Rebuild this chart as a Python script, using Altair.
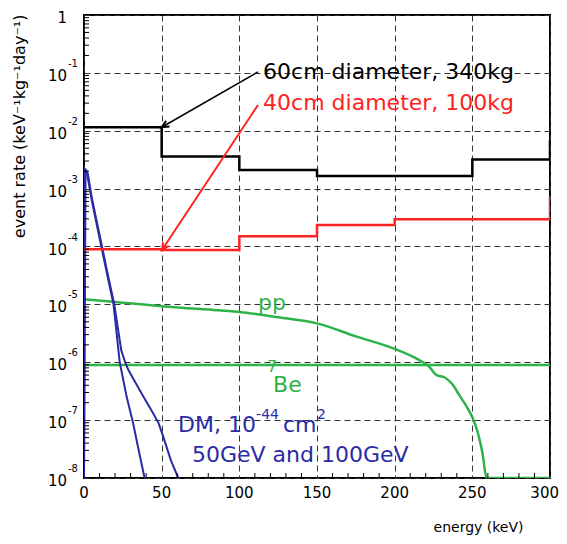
import altair as alt
import pandas as pd

# ---------------- data ----------------
x_major = [0, 50, 100, 150, 200, 250, 300]
x_labels = ["0", "50", "100", "150", "200", "250", "300"]
y_decades = [1, 1e-1, 1e-2, 1e-3, 1e-4, 1e-5, 1e-6, 1e-7, 1e-8]
y_base_labels = ["1", "10", "10", "10", "10", "10", "10", "10", "10"]
y_exp_labels = ["", "-1", "-2", "-3", "-4", "-5", "-6", "-7", "-8"]

# 60cm diameter, 340kg  (step-after)
black_x = [0, 50, 100, 150, 250, 300]
black_y = [1.15e-2, 3.6e-3, 2.1e-3, 1.66e-3, 3.2e-3, 6.9e-3]

# 40cm diameter, 100kg  (step-after)
red_x = [0, 50, 100, 150, 200, 300]
red_y = [9.0e-5, 8.7e-5, 1.5e-4, 2.35e-4, 2.95e-4, 7.3e-4]

# pp solar neutrinos
pp_x = [0, 25, 50, 75, 100, 125, 150, 175, 200, 215, 222, 227, 232, 237, 242, 247, 250, 253, 256, 259.5, 300]
pp_y = [1.23e-5, 1.07e-5, 9.3e-6, 8.3e-6, 7.4e-6, 6.0e-6, 4.7e-6, 2.8e-6, 1.7e-6, 1.12e-6, 8.5e-7,
        6.0e-7, 5.5e-7, 4.2e-7, 2.6e-7, 1.6e-7, 1.12e-7, 6.8e-8, 3.2e-8, 1e-8, 1e-8]

# 7Be solar neutrinos
be_x = [0, 300]
be_y = [9.0e-7, 9.0e-7]

# DM 50 GeV
dm50_x = [0, 0.5, 2, 5, 10, 15, 19, 23, 27.5, 31.6, 35, 39]
dm50_y = [1e-8, 2.2e-3, 1.8e-3, 6.3e-4, 1.4e-4, 3.2e-5, 1e-5, 1e-6, 2.5e-7, 8.9e-8, 3.2e-8, 1e-8]

# DM 100 GeV
dm100_x = [0, 1, 2.5, 5, 10, 15, 19.5, 24, 26.5, 28.5, 33, 38, 44.6, 48, 51, 56, 60.7]
dm100_y = [1e-8, 2.2e-3, 1.8e-3, 7e-4, 1.6e-4, 3.6e-5, 1e-5, 1.6e-6, 1e-6, 7.4e-7, 4.5e-7, 2.6e-7,
           1.3e-7, 8.9e-8, 5.2e-8, 2e-8, 1e-8]

# arrows (tail -> head)
black_arrow_x = [112, 50]
black_arrow_y = [0.104, 0.0115]
red_arrow_x = [112, 50.2]
red_arrow_y = [0.0279, 8.7e-5]

# ---------------- colours / fonts ----------------
BLACK = "#000000"
RED = "#ff2222"
GREEN = "#2db34a"
BLUE = "#2b2ba6"
FONT = "DejaVu Sans"

W, H = 466, 463
xs = alt.Scale(domain=[0, 300], nice=False, zero=False)
ys = alt.Scale(type="log", domain=[1e-8, 1], nice=False, clamp=True)

XA = alt.Axis(values=x_major, grid=True, gridDash=[6, 4], gridColor="#333333", gridWidth=1,
              ticks=False, domain=False, labels=False,
              title="energy (keV)", titleFont=FONT, titleFontSize=14,
              titleFontWeight="normal", titleAlign="right", titleX=439, titleY=49,
              titleBaseline="middle", titleColor="black")
YA = alt.Axis(values=y_decades, grid=True, gridDash=[6, 4], gridColor="#333333", gridWidth=1,
              ticks=False, domain=False, labels=False,
              title="event rate (keV⁻¹kg⁻¹day⁻¹)", titleFont=FONT, titleFontSize=16,
              titleFontWeight="normal", titleAngle=270, titleAlign="right", titleX=-65,
              titleY=-1, titleBaseline="middle", titleColor="black")


def line_layer(xv, yv, color, width, interp="linear"):
    df = pd.DataFrame({"x": xv, "y": yv})
    return alt.Chart(df).mark_line(color=color, strokeWidth=width, interpolate=interp, clip=True).encode(
        x=alt.X("x:Q", scale=xs, axis=XA),
        y=alt.Y("y:Q", scale=ys, axis=YA),
    )


be_layer = line_layer(be_x, be_y, GREEN, 2.5)
pp_layer = line_layer(pp_x, pp_y, GREEN, 2.5, interp="monotone")
dm50_layer = line_layer(dm50_x, dm50_y, BLUE, 2)
dm100_layer = line_layer(dm100_x, dm100_y, BLUE, 2)
red_layer = line_layer(red_x, red_y, RED, 2.5, interp="step-after")
black_layer = line_layer(black_x, black_y, BLACK, 2.5, interp="step-after")
black_arrow = line_layer(black_arrow_x, black_arrow_y, BLACK, 1.5)
red_arrow = line_layer(red_arrow_x, red_arrow_y, RED, 2)

V_SHAPE = "M -0.6 1.3 L 0 0 L 0.6 1.3"


def arrow_head(xv, yv, color, angle):
    df = pd.DataFrame({"x": [xv], "y": [yv]})
    return alt.Chart(df).mark_point(shape=V_SHAPE, angle=angle, filled=False, stroke=color,
                                    strokeWidth=2, size=120, opacity=1).encode(
        x=alt.X("x:Q", scale=xs, axis=XA), y=alt.Y("y:Q", scale=ys, axis=YA))


black_head = arrow_head(black_arrow_x[1], black_arrow_y[1], BLACK, 239.7)
red_head = arrow_head(red_arrow_x[1], red_arrow_y[1], RED, 213.5)

# ---------------- ticks ----------------
y_minor = [k * d for d in y_decades[1:] for k in range(2, 10)]
x_minor = [v for v in range(10, 300, 10) if v % 50 != 0]

y_tick_layer = alt.Chart(pd.DataFrame({"y": y_minor})).mark_rule(color="black", strokeWidth=1).encode(
    y=alt.Y("y:Q", scale=ys, axis=YA), x=alt.value(0), x2=alt.value(5))
x_tick_layer = alt.Chart(pd.DataFrame({"x": x_minor})).mark_rule(color="black", strokeWidth=1).encode(
    x=alt.X("x:Q", scale=xs, axis=XA), y=alt.value(H), y2=alt.value(H - 5))

# ---------------- x labels ----------------
xlab_df = pd.DataFrame({"v": x_major[:-1], "t": x_labels[:-1]})
xlab_layer = alt.Chart(xlab_df).mark_text(align="center", baseline="middle", font=FONT, fontSize=15,
                                          color="black").encode(
    x=alt.X("v:Q", scale=xs, axis=XA), y=alt.value(H + 15), text="t:N")
xlab_last = alt.Chart(pd.DataFrame({"v": x_major[-1:], "t": x_labels[-1:]})).mark_text(
    align="right", baseline="middle", font=FONT, fontSize=15, color="black", dx=9).encode(
    x=alt.X("v:Q", scale=xs, axis=XA), y=alt.value(H + 15), text="t:N")

# ---------------- y labels (10 with raised exponent) ----------------
ylab_df = pd.DataFrame({"v": y_decades, "base": y_base_labels, "exp": y_exp_labels})
ylab_base = alt.Chart(ylab_df).mark_text(align="right", baseline="middle", font=FONT, fontSize=15,
                                         color="black", dy=3).encode(
    y=alt.Y("v:Q", scale=ys, axis=YA), x=alt.value(-17), text="base:N")
ylab_exp = alt.Chart(ylab_df).mark_text(align="left", baseline="middle", font=FONT, fontSize=10,
                                        color="black", dy=-9).encode(
    y=alt.Y("v:Q", scale=ys, axis=YA), x=alt.value(-16), text="exp:N")

# ---------------- annotations ----------------
ann_text = ["60cm diameter, 340kg", "40cm diameter, 100kg", "pp", "Be", "7",
            "DM, 10", "-44", "cm", "2", "50GeV and 100GeV"]
ann_x = [115.3, 115.3, 112, 121.7, 118, 60.5, 110.8, 128.1, 150.0, 69.5]
ann_y = [0.104, 0.030, 1.07e-5, 4.1e-7, 8.3e-7, 8.3e-8, 1.25e-7, 8.3e-8, 1.25e-7, 2.5e-8]
ann_color = [BLACK, RED, GREEN, GREEN, GREEN, BLUE, BLUE, BLUE, BLUE, BLUE]
ann_size = [22, 22, 22, 22, 15, 22, 14, 22, 14, 22]

ann_df = pd.DataFrame({"t": ann_text, "x": ann_x, "y": ann_y, "c": ann_color, "s": ann_size})
ann_layer = alt.Chart(ann_df).mark_text(align="left", baseline="middle", font=FONT).encode(
    x=alt.X("x:Q", scale=xs, axis=XA),
    y=alt.Y("y:Q", scale=ys, axis=YA),
    text="t:N",
    color=alt.Color("c:N", scale=None, legend=None),
    size=alt.Size("s:Q", scale=None, legend=None),
)

chart = alt.layer(
    be_layer, pp_layer, dm50_layer, dm100_layer, red_layer, black_layer,
    black_arrow, red_arrow, black_head, red_head,
    y_tick_layer, x_tick_layer, xlab_layer, xlab_last, ylab_base, ylab_exp, ann_layer,
).properties(
    width=W, height=H,
    autosize=alt.AutoSizeParams(type="none"),
    padding={"left": 76, "top": 7, "right": 9, "bottom": 58},
    background="white",
).configure_view(stroke="black", strokeWidth=2)

chart.save("out.html", embed_options={"renderer": "svg", "actions": False})
